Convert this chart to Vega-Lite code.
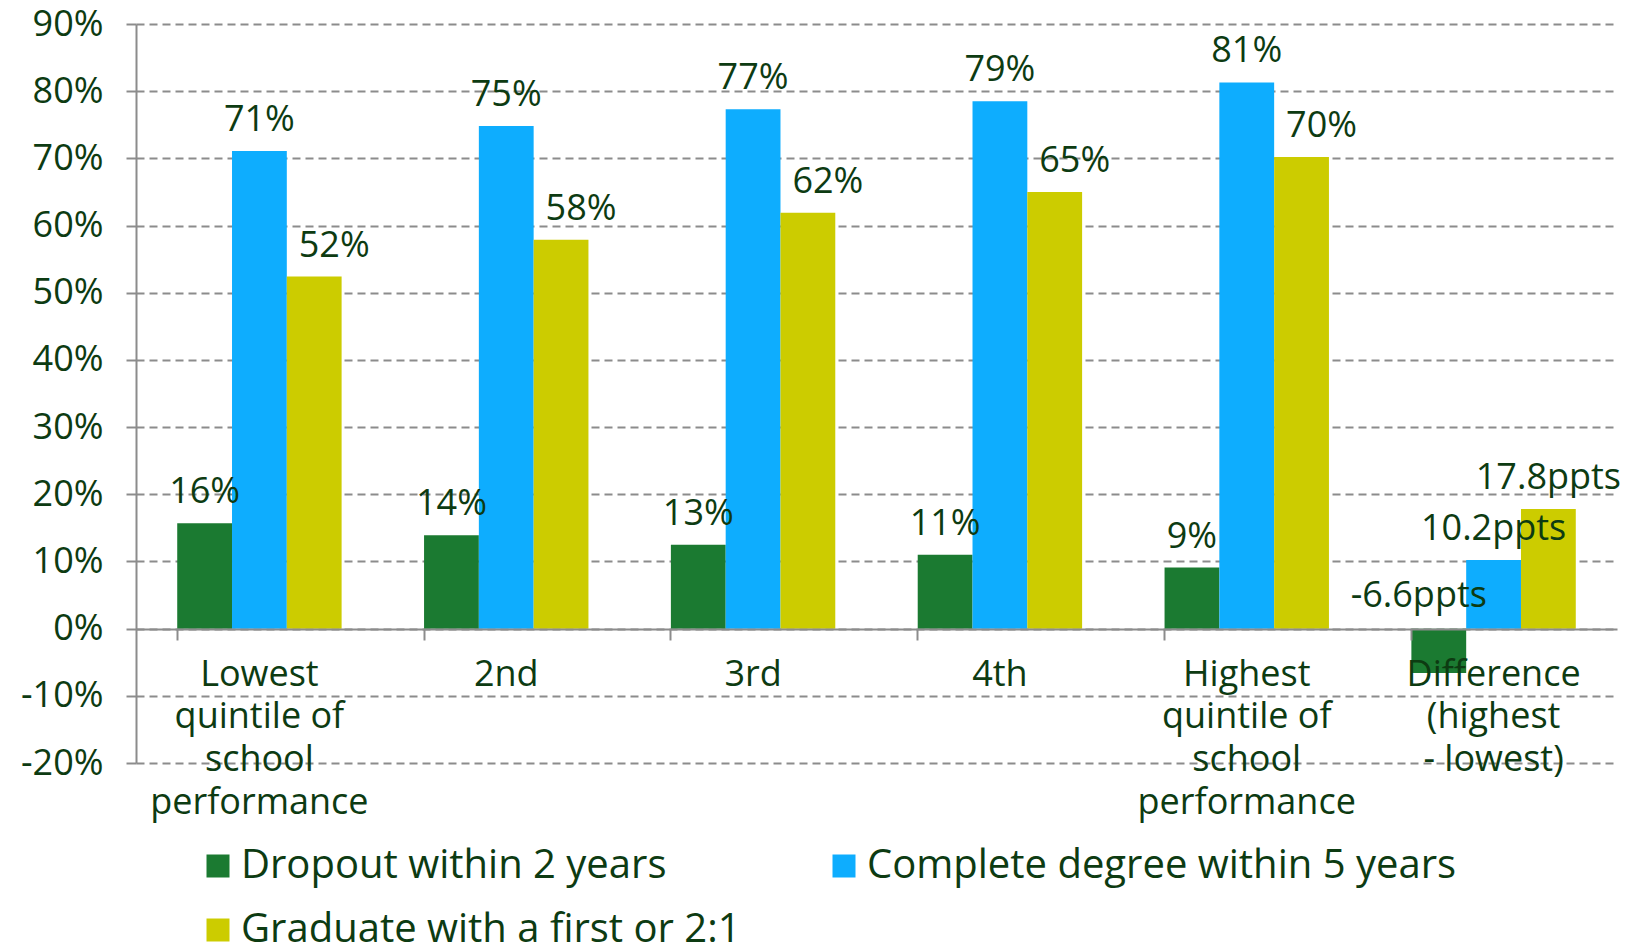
{
  "$schema": "https://vega.github.io/schema/vega-lite/v6.json",
  "autosize": {"type": "none"},
  "padding": {"left": 136, "top": 24, "right": 17, "bottom": 183},
  "width": 1481,
  "height": 739,
  "background": "white",
  "config": {
    "font": "Open Sans",
    "view": {"stroke": null},
    "axis": {"labelColor": "#0d3b12", "labelFont": "Open Sans"}
  },
  "data": {
    "values": [
      {"cat": "Lowest|quintile of|school|performance", "series": "Dropout within 2 years", "value": 15.7, "label": "16%"},
      {"cat": "Lowest|quintile of|school|performance", "series": "Complete degree within 5 years", "value": 71.1, "label": "71%"},
      {"cat": "Lowest|quintile of|school|performance", "series": "Graduate with a first or 2:1", "value": 52.4, "label": "52%"},
      {"cat": "2nd", "series": "Dropout within 2 years", "value": 13.9, "label": "14%"},
      {"cat": "2nd", "series": "Complete degree within 5 years", "value": 74.8, "label": "75%"},
      {"cat": "2nd", "series": "Graduate with a first or 2:1", "value": 57.9, "label": "58%"},
      {"cat": "3rd", "series": "Dropout within 2 years", "value": 12.5, "label": "13%"},
      {"cat": "3rd", "series": "Complete degree within 5 years", "value": 77.3, "label": "77%"},
      {"cat": "3rd", "series": "Graduate with a first or 2:1", "value": 61.9, "label": "62%"},
      {"cat": "4th", "series": "Dropout within 2 years", "value": 11.0, "label": "11%"},
      {"cat": "4th", "series": "Complete degree within 5 years", "value": 78.5, "label": "79%"},
      {"cat": "4th", "series": "Graduate with a first or 2:1", "value": 65.0, "label": "65%"},
      {"cat": "Highest|quintile of|school|performance", "series": "Dropout within 2 years", "value": 9.1, "label": "9%"},
      {"cat": "Highest|quintile of|school|performance", "series": "Complete degree within 5 years", "value": 81.3, "label": "81%"},
      {"cat": "Highest|quintile of|school|performance", "series": "Graduate with a first or 2:1", "value": 70.2, "label": "70%"},
      {"cat": "Difference|(highest|- lowest)", "series": "Dropout within 2 years", "value": -6.6, "label": "-6.6ppts"},
      {"cat": "Difference|(highest|- lowest)", "series": "Complete degree within 5 years", "value": 10.2, "label": "10.2ppts"},
      {"cat": "Difference|(highest|- lowest)", "series": "Graduate with a first or 2:1", "value": 17.8, "label": "17.8ppts"}
    ]
  },
  "encoding": {
    "x": {
      "field": "cat",
      "type": "nominal",
      "sort": null,
      "scale": {"paddingInner": 0.334, "paddingOuter": 0.167},
      "axis": {
        "title": null,
        "offset": -134,
        "bandPosition": 0,
        "labelAngle": 0,
        "labelExpr": "split(datum.label, '|')",
        "labelFontSize": 36,
        "labelLineHeight": 42.7,
        "labelPadding": 17,
        "labelBaseline": "top",
        "labelAlign": "center",
        "labelLimit": 0,
        "tickSize": 11,
        "tickColor": "#8c8c8c",
        "tickWidth": 2,
        "domainColor": "#8c8c8c",
        "domainWidth": 2,
        "grid": false,
        "zindex": 1
      }
    },
    "xOffset": {
      "field": "series",
      "type": "nominal",
      "sort": ["Dropout within 2 years", "Complete degree within 5 years", "Graduate with a first or 2:1"],
      "scale": {"paddingInner": 0, "paddingOuter": 0}
    },
    "y": {
      "field": "labelPos",
      "type": "quantitative"
    },
    "text": {"field": "label"}
  },
  "layer": [
    {
      "mark": {"type": "bar"},
      "encoding": {
        "y": {
          "field": "value",
          "type": "quantitative",
          "scale": {"domain": [-20, 90], "nice": false, "zero": true},
          "axis": {
            "title": null,
            "values": [-20, -10, 0, 10, 20, 30, 40, 50, 60, 70, 80, 90],
            "labelExpr": "datum.value + '%'",
            "labelFontSize": 36,
            "labelPadding": 23,
            "tickSize": 10,
            "tickColor": "#8c8c8c",
            "tickWidth": 2,
            "domainColor": "#8c8c8c",
            "domainWidth": 2,
            "grid": true,
            "gridColor": "#8c8c8c",
            "gridWidth": 2,
            "gridDash": [8, 5]
          }
        },
        "text": null,
        "color": {
          "field": "series",
          "type": "nominal",
          "sort": ["Dropout within 2 years", "Complete degree within 5 years", "Graduate with a first or 2:1"],
          "scale": {
            "domain": ["Dropout within 2 years", "Complete degree within 5 years", "Graduate with a first or 2:1"],
            "range": ["#1b7a31", "#0eadfe", "#cccc00"]
          },
          "legend": {
            "title": null,
            "orient": "none",
            "legendX": 62,
            "legendY": 822,
            "direction": "horizontal",
            "columns": 2,
            "columnPadding": 83,
            "rowPadding": 24,
            "padding": 0,
            "symbolType": "square",
            "symbolSize": 529,
            "symbolStrokeWidth": 0,
            "labelFontSize": 40,
            "labelColor": "#0d3b12",
            "labelFont": "Open Sans",
            "labelOffset": 3,
            "labelLimit": 0
          }
        }
      }
    },
    {
      "transform": [
        {"filter": "datum.series !== 'Graduate with a first or 2:1' && datum.label !== '-6.6ppts'"},
        {"calculate": "max(datum.value, 0)", "as": "labelPos"}
      ],
      "mark": {"type": "text", "fontSize": 36, "color": "#0d3b12", "baseline": "alphabetic", "dy": -20, "font": "Open Sans"}
    },
    {
      "transform": [
        {"filter": "datum.label === '-6.6ppts'"},
        {"calculate": "max(datum.value, 0)", "as": "labelPos"}
      ],
      "mark": {"type": "text", "fontSize": 36, "color": "#0d3b12", "baseline": "alphabetic", "dy": -22, "dx": -20, "font": "Open Sans"}
    },
    {
      "transform": [
        {"filter": "datum.series === 'Graduate with a first or 2:1' && datum.label !== '17.8ppts'"},
        {"calculate": "max(datum.value, 0)", "as": "labelPos"}
      ],
      "mark": {"type": "text", "fontSize": 36, "color": "#0d3b12", "baseline": "alphabetic", "dy": -20, "dx": 20, "font": "Open Sans"}
    },
    {
      "transform": [
        {"filter": "datum.label === '17.8ppts'"},
        {"calculate": "max(datum.value, 0)", "as": "labelPos"}
      ],
      "mark": {"type": "text", "fontSize": 36, "color": "#0d3b12", "baseline": "alphabetic", "dy": -20, "font": "Open Sans"}
    }
  ]
}
